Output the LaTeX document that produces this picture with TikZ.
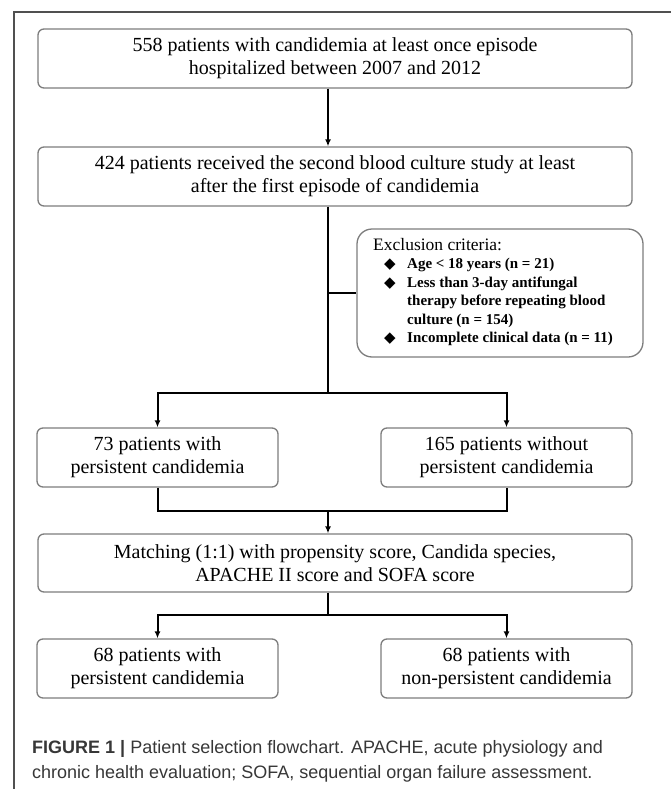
\documentclass[tikz,border=0pt]{standalone}
\usepackage{fontspec}
\setmainfont{Liberation Serif}
\newfontfamily\capfont{Liberation Sans}
\newfontfamily\symfont{DejaVu Sans}
\usetikzlibrary{arrows.meta}
\definecolor{boxgray}{RGB}{125,125,125}
\definecolor{framecol}{RGB}{80,80,80}
\definecolor{capgray}{RGB}{55,55,55}
\tikzset{
  box/.style={draw=boxgray, line width=1.3pt, rounded corners=6pt, align=center,
    font=\fontsize{20}{23}\selectfont, inner sep=0pt},
  conn/.style={line width=2pt, draw=black},
  arr/.style={conn, -{Latex[length=7pt,width=6pt]}},
}
\newcommand{\exbullet}{\hspace*{11pt}\makebox[23pt][l]{\symfont\fontsize{15}{18.5}\selectfont ◆}}
\newcommand{\exindent}{\hspace*{34pt}}
\begin{document}
\begin{tikzpicture}[x=1pt,y=-1pt]
\useasboundingbox (0,0) rectangle (671,789);
% frame
\draw[framecol, line width=1.2pt] (14,789) -- (14,12) -- (671,12);
% boxes
\node[box, minimum width=594pt, minimum height=59pt] (b1) at (335,58.5)
  {558 patients with candidemia at least once episode\\hospitalized between 2007 and 2012};
\node[box, minimum width=594pt, minimum height=59pt] (b2) at (335,176.5)
  {424 patients received the second blood culture study at least\\after the first episode of candidemia};
\node[draw=boxgray, line width=1.3pt, rounded corners=15pt, minimum width=286pt, minimum height=128pt, inner sep=0pt] (ex) at (500,293) {};
\node[anchor=base west, inner sep=0pt] (extxt) at (373,250) {\begin{minipage}[t]{268pt}
  \fontsize{17.5}{18.5}\selectfont Exclusion criteria:\par
  \fontsize{15}{18.5}\selectfont\bfseries
  \exbullet Age < 18 years (n = 21)\par
  \exbullet Less than 3-day antifungal\par
  \exindent therapy before repeating blood\par
  \exindent culture (n = 154)\par
  \exbullet Incomplete clinical data (n = 11)\par
\end{minipage}};
\node[box, minimum width=241pt, minimum height=59pt] (l1) at (157.5,457.5)
  {73 patients with\\persistent candidemia};
\node[box, minimum width=251pt, minimum height=59pt] (r1) at (506.5,457.5)
  {165 patients without\\persistent candidemia};
\node[box, minimum width=594pt, minimum height=58pt] (mt) at (335,563)
  {Matching (1:1) with propensity score, Candida species,\\APACHE II score and SOFA score};
\node[box, minimum width=241pt, minimum height=59pt] (l2) at (157.5,668.5)
  {68 patients with\\persistent candidemia};
\node[box, minimum width=251pt, minimum height=59pt] (r2) at (506.5,668.5)
  {68 patients with\\non-persistent candidemia};
% caption
\node[anchor=base west, inner sep=0pt, text=capgray] (cap) at (32,753) {\begin{minipage}[t]{630pt}\raggedright
  \capfont\fontsize{18}{25}\selectfont\textbf{FIGURE 1 |} Patient selection flowchart. APACHE, acute physiology and\\
  chronic health evaluation; SOFA, sequential organ failure assessment.
\end{minipage}};
% connector coordinates
\coordinate (tk) at (328,0);
\coordinate (s1) at (328,393);
\coordinate (m1) at (328,511);
\coordinate (s2) at (328,615);
% connectors
\draw[arr] (b1.south -| tk) -- (b2.north -| tk);
\draw[conn] (b2.south -| tk) -- (s1);
\draw[conn] (tk |- ex.west) -- (ex.west);
\draw[arr] (s1) -| (l1.north);
\draw[arr] (s1) -| (r1.north);
\draw[conn] (l1.south) |- (m1) -| (r1.south);
\draw[arr] (m1) -- (mt.north -| m1);
\draw[conn] (mt.south -| s2) -- (s2);
\draw[arr] (s2) -| (l2.north);
\draw[arr] (s2) -| (r2.north);
\end{tikzpicture}
\end{document}
